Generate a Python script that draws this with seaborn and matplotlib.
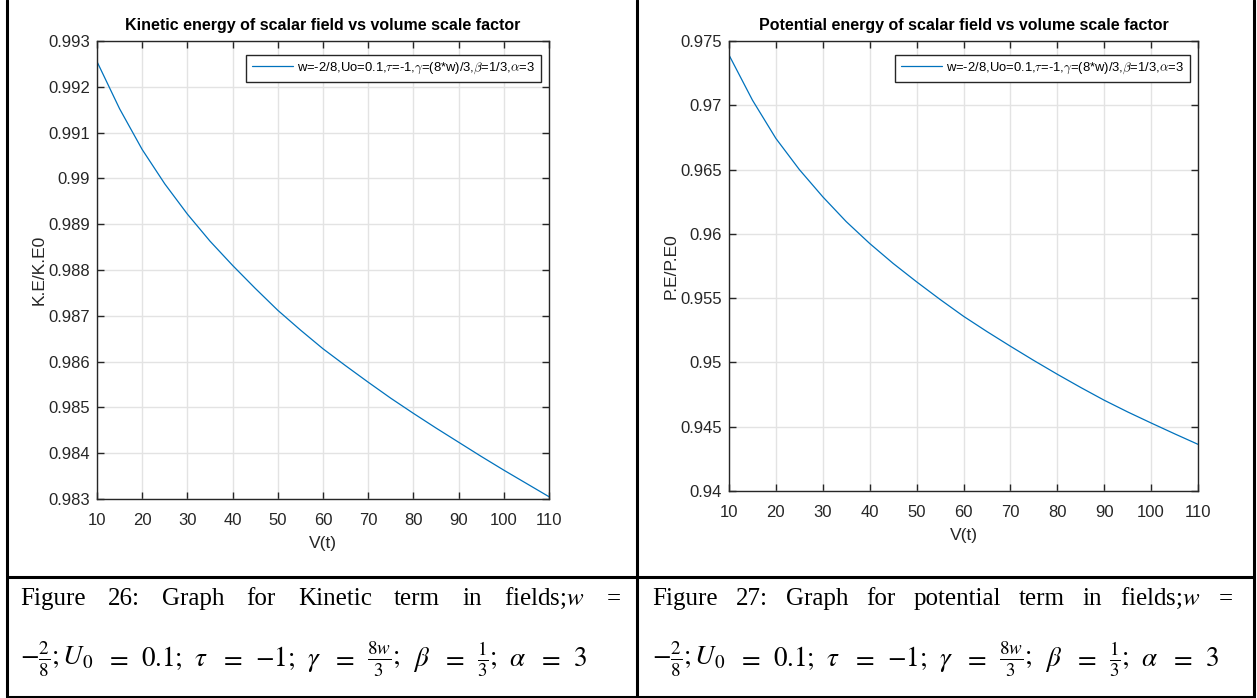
import matplotlib
matplotlib.use('Agg')
import matplotlib.pyplot as plt
import seaborn as sns
from matplotlib.lines import Line2D
from matplotlib.ticker import FuncFormatter

# values
volume = [10, 15, 20, 25, 30, 35, 40, 45, 50, 55, 60,
          65, 70, 75, 80, 85, 90, 95, 100, 105, 110]
ke_ratio = [0.99255, 0.99152, 0.99063, 0.98988, 0.98922, 0.98863, 0.98810,
            0.98760, 0.98712, 0.98669, 0.98628, 0.98591, 0.98555, 0.98520,
            0.98487, 0.98455, 0.98424, 0.98393, 0.98363, 0.98334, 0.98305]
pe_ratio = [0.97391, 0.97040, 0.96742, 0.96500, 0.96288, 0.96095, 0.95925,
            0.95770, 0.95627, 0.95490, 0.95359, 0.95240, 0.95126, 0.95015,
            0.94908, 0.94805, 0.94706, 0.94615, 0.94529, 0.94445, 0.94363]

x_ticks = [10, 20, 30, 40, 50, 60, 70, 80, 90, 100, 110]
ke_ticks = [0.983, 0.984, 0.985, 0.986, 0.987, 0.988, 0.989, 0.990, 0.991, 0.992, 0.993]
pe_ticks = [0.940, 0.945, 0.950, 0.955, 0.960, 0.965, 0.970, 0.975]

legend_label = r'w=-2/8,Uo=0.1,$\tau$=-1,$\gamma$=(8*w)/3,$\beta$=1/3,$\alpha$=3'
titles = ['Kinetic energy of scalar field vs volume scale factor',
          'Potential energy of scalar field vs volume scale factor']
ylabels = ['K.E/K.E0', 'P.E/P.E0']
caption_words = [
    ['Figure', '26:', 'Graph', 'for', 'Kinetic', 'term', 'in', r'fields;$w$', '='],
    ['Figure', '27:', 'Graph', 'for', 'potential', 'term', 'in', r'fields;$w$', '='],
]
caption_line2 = [r'$-\frac{2}{8};U_0$', '$=$', '$0.1;$', r'$\tau$', '$=$', '$-1;$',
                 r'$\gamma$', '$=$', r'$\frac{8w}{3};$', r'$\beta$', '$=$',
                 r'$\frac{1}{3};$', r'$\alpha$', '$=$', '$3$']

W, H = 1257, 698
sns.set_theme(style='white')
plt.rcParams['font.family'] = ['Liberation Sans Narrow', 'Liberation Sans', 'DejaVu Sans']

fig = plt.figure(figsize=(W / 100, H / 100), dpi=100)


def px_axes(x0, y0, x1, y1):
    return fig.add_axes([x0 / W, 1 - y1 / H, (x1 - x0) / W, (y1 - y0) / H])


ax1 = px_axes(97, 41, 549, 499)
ax2 = px_axes(729, 41, 1198, 491)

panels = [(ax1, ke_ratio, ke_ticks, titles[0], ylabels[0]),
          (ax2, pe_ratio, pe_ticks, titles[1], ylabels[1])]

for ax, vals, yt, title, ylab in panels:
    sns.lineplot(x=volume, y=vals, ax=ax, color='#0072BD', lw=0.9, label=legend_label)
    ax.set_xlim(10, 110)
    ax.set_ylim(yt[0], yt[-1])
    ax.set_xticks(x_ticks)
    ax.set_yticks(yt)
    ax.yaxis.set_major_formatter(FuncFormatter(lambda v, p: f'{v:g}'))
    ax.grid(True, color='#e3e3e3', lw=1)
    ax.tick_params(direction='in', length=5, width=1, color='#262626',
                   top=True, right=True, bottom=True, left=True,
                   labelsize=12, labelcolor='#262626')
    ax.tick_params(axis='x', pad=10)
    ax.tick_params(axis='y', pad=5)
    for s in ax.spines.values():
        s.set_color('#262626')
        s.set_linewidth(1)
    ax.set_title(title, fontweight='bold', fontsize=11.5, pad=8, color='black')
    ax.set_xlabel('V(t)', fontsize=12.5, color='#262626', labelpad=6)
    ax.set_ylabel(ylab, fontsize=12.5, color='#262626', labelpad=1)

    w_ax = ax.get_position().width * W
    h_ax = ax.get_position().height * H
    leg = ax.legend(loc='upper right', bbox_to_anchor=(1 - 8 / w_ax, 1 - 14 / h_ax),
                    borderaxespad=0, fancybox=False, edgecolor='#262626',
                    framealpha=1, fontsize=9.4, handlelength=3.1,
                    borderpad=0.45, handletextpad=0.35)
    leg.get_frame().set_linewidth(1)
    for t in leg.get_texts():
        t.set_math_fontfamily('cm')
        t.set_color('black')

# table lines of the document
table = [((7, 0), (7, 697)), ((637, 0), (637, 697)), ((1254, 0), (1254, 697)),
         ((7, 577), (1254, 577)), ((7, 697), (1254, 697))]
for (xa, ya), (xb, yb) in table:
    fig.add_artist(Line2D([xa / W, xb / W], [1 - ya / H, 1 - yb / H],
                          transform=fig.transFigure, color='black', lw=2.2))

renderer = fig.canvas.get_renderer()
cap_kw = dict(family='Liberation Serif', math_fontfamily='stix',
              va='baseline', ha='left', color='black')


def spread(pieces, x0, x1, y, size):
    # place pieces so they fill x0..x1 with equal gaps
    texts = [fig.text(0, 1 - y / H, p, fontsize=size, **cap_kw) for p in pieces]
    widths = [t.get_window_extent(renderer).width for t in texts]
    gap = (x1 - x0 - sum(widths)) / (len(pieces) - 1)
    x = x0
    for t, wd in zip(texts, widths):
        t.set_x(x / W)
        x += wd + gap


for words, (x0, x1) in zip(caption_words, [(20, 621), (652, 1233)]):
    spread(words, x0, x1, 605, 18)
for x0, x1 in [(20, 587), (652, 1219)]:
    spread(caption_line2, x0, x1, 666, 19.5)

fig.savefig('out.png', dpi=100)
